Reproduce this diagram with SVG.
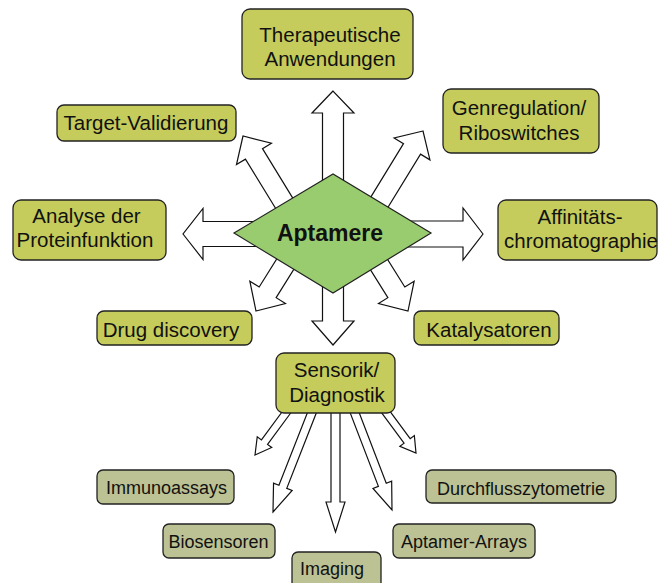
<svg xmlns="http://www.w3.org/2000/svg" width="658" height="583" viewBox="0 0 658 583">
<style>
.box1{fill:#c5cc5c;stroke:#222;stroke-width:1.3}
.box2{fill:#bcc293;stroke:#222;stroke-width:1.3}
.t1{font-family:"Liberation Sans",Arial,sans-serif;font-size:20.5px;fill:#111;text-anchor:middle}
.t2{font-family:"Liberation Sans",Arial,sans-serif;font-size:18px;fill:#111;text-anchor:middle}
.arr{fill:#fff;stroke:#111;stroke-width:1.2;stroke-linejoin:miter}
</style>
<rect width="658" height="583" fill="#fff"/>
<g id="connectors">
  <!-- big arrows from Aptamere -->
  <polygon class="arr" transform="translate(333,91) rotate(-90)" points="0,0 -22,-21 -22,-10.5 -110,-10.5 -110,10.5 -22,10.5 -22,21"/>
  <polygon class="arr" transform="translate(333,345) rotate(90)" points="0,0 -24,-21 -24,-10.5 -100,-10.5 -100,10.5 -24,10.5 -24,21"/>
  <polygon class="arr" transform="translate(483,234) rotate(0)" points="0,0 -20,-26 -20,-13 -160,-13 -160,13 -20,13 -20,26"/>
  <polygon class="arr" transform="translate(183,234) rotate(180)" points="0,0 -20,-25.5 -20,-12.5 -160,-12.5 -160,12.5 -20,12.5 -20,25.5"/>
  <polygon class="arr" transform="translate(243,136) rotate(-121.5)" points="0,0 -21,-20.5 -21,-10 -110,-10 -110,10 -21,10 -21,20.5"/>
  <polygon class="arr" transform="translate(423,131) rotate(-58.5)" points="0,0 -21,-21 -21,-10 -110,-10 -110,10 -21,10 -21,21"/>
  <polygon class="arr" transform="translate(256,311) rotate(122)" points="0,0 -22,-21 -22,-10 -100,-10 -100,10 -22,10 -22,21"/>
  <polygon class="arr" transform="translate(408,311) rotate(58)" points="0,0 -22,-21 -22,-10 -100,-10 -100,10 -22,10 -22,21"/>
  <!-- thin arrows from Sensorik/Diagnostik -->
  <polygon class="arr" transform="translate(255,455) rotate(126.4)" points="0,0 -16,-9 -16,-3.8 -55,-3.8 -55,3.8 -16,3.8 -16,9"/>
  <polygon class="arr" transform="translate(273,512) rotate(111.4)" points="0,0 -27,-10 -27,-4.2 -109,-4.2 -109,4.2 -27,4.2 -27,10"/>
  <polygon class="arr" transform="translate(335.5,532) rotate(90)" points="0,0 -30,-9.5 -30,-4.5 -122,-4.5 -122,4.5 -30,4.5 -30,9.5"/>
  <polygon class="arr" transform="translate(392,510) rotate(69)" points="0,0 -27,-10 -27,-4.2 -107,-4.2 -107,4.2 -27,4.2 -27,10"/>
  <polygon class="arr" transform="translate(416,453) rotate(53.6)" points="0,0 -15,-9 -15,-3.8 -53,-3.8 -53,3.8 -15,3.8 -15,9"/>
</g>
<g id="aptamere">
  <polygon points="234,233 333,174 431,233 333,293" fill="#99cc6e" stroke="#222" stroke-width="1.2"/>
  <text x="330" y="241" font-family="'Liberation Sans',Arial,sans-serif" font-size="23" font-weight="bold" text-anchor="middle" fill="#111">Aptamere</text>
</g>
<g id="therapeutische">
  <rect class="box1" x="242" y="9" width="171" height="70" rx="8"/>
  <text class="t1" x="330" y="42">Therapeutische</text>
  <text class="t1" x="330" y="65.5">Anwendungen</text>
</g>
<g id="target">
  <rect class="box1" x="57" y="105" width="179" height="36" rx="7"/>
  <text class="t1" x="146" y="130">Target-Validierung</text>
</g>
<g id="analyse">
  <rect class="box1" x="13" y="200" width="153" height="60" rx="8"/>
  <text class="t1" x="86.5" y="223">Analyse der</text>
  <text class="t1" x="85" y="246.5">Proteinfunktion</text>
</g>
<g id="genregulation">
  <rect class="box1" x="443" y="89" width="156" height="64" rx="8"/>
  <text class="t1" x="519" y="115">Genregulation/</text>
  <text class="t1" x="519" y="140">Riboswitches</text>
</g>
<g id="affinitaet">
  <rect class="box1" x="498" y="200" width="159" height="60" rx="8"/>
  <text class="t1" x="580" y="224">Affinitäts-</text>
  <text class="t1" x="581" y="248">chromatographie</text>
</g>
<g id="drug">
  <rect class="box1" x="97" y="311" width="155" height="34" rx="7"/>
  <text class="t1" x="171" y="336.5">Drug discovery</text>
</g>
<g id="katalysatoren">
  <rect class="box1" x="414" y="311" width="145" height="34" rx="7"/>
  <text class="t1" x="489" y="336.5">Katalysatoren</text>
</g>
<g id="sensorik">
  <rect class="box1" x="276" y="353" width="119" height="60" rx="8"/>
  <text class="t1" x="336.5" y="376.5">Sensorik/</text>
  <text class="t1" x="337" y="401.5">Diagnostik</text>
</g>
<g id="immunoassays">
  <rect class="box2" x="97" y="470" width="137" height="34" rx="6"/>
  <text class="t2" x="166.5" y="493.5">Immunoassays</text>
</g>
<g id="biosensoren">
  <rect class="box2" x="163" y="524" width="112" height="34" rx="6"/>
  <text class="t2" x="218.5" y="547.5">Biosensoren</text>
</g>
<g id="imaging">
  <rect class="box2" x="292" y="552" width="89" height="40" rx="6"/>
  <text class="t2" x="332" y="575">Imaging</text>
</g>
<g id="aptamer-arrays">
  <rect class="box2" x="393" y="524" width="142" height="34" rx="6"/>
  <text class="t2" x="464" y="547.5">Aptamer-Arrays</text>
</g>
<g id="durchfluss">
  <rect class="box2" x="426" y="470" width="190" height="33" rx="6"/>
  <text class="t2" x="521" y="495">Durchflusszytometrie</text>
</g>
</svg>
